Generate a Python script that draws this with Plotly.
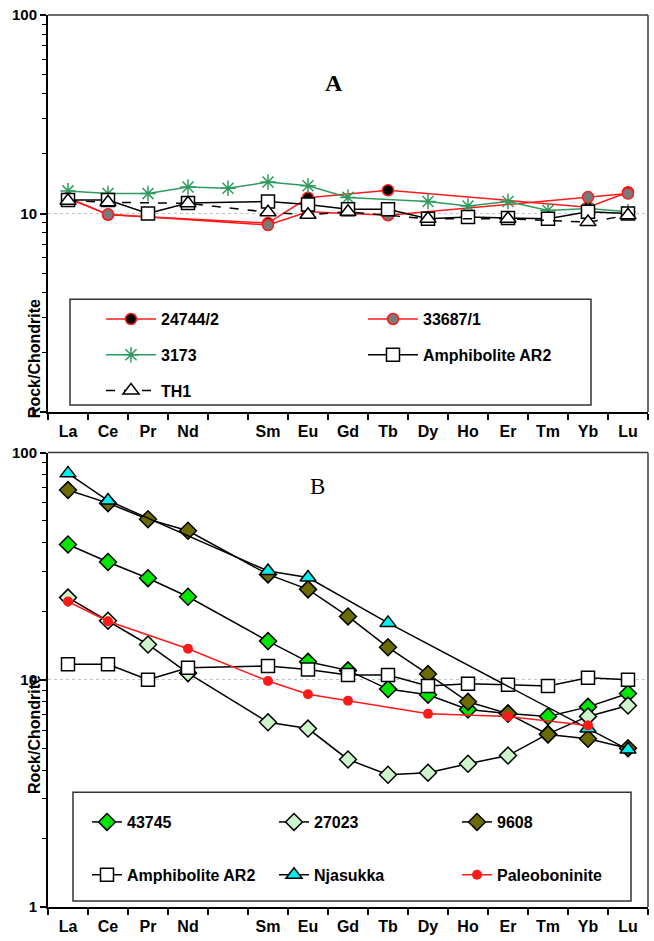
import plotly.graph_objects as go

# Rare-earth elements in chondrite-normalised order (Pm has no tick label)
ELEMENTS = ["La", "Ce", "Pr", "Nd", "Pm", "Sm", "Eu", "Gd", "Tb", "Dy", "Ho", "Er", "Tm", "Yb", "Lu"]
TICK_TEXT = ["La", "Ce", "Pr", "Nd", "", "Sm", "Eu", "Gd", "Tb", "Dy", "Ho", "Er", "Tm", "Yb", "Lu"]

# Panel A samples (None = not analysed)
s_24744_2 = [12.0, 9.85, None, None, None, 8.95, 12.0, None, 13.1, None, None, None, None, 10.75, 12.8]
s_33687_1 = [11.9, 9.9, None, None, None, 8.75, 10.2, None, 9.8, None, None, None, None, 12.1, 12.6]
s_3173 = [13.0, 12.6, 12.6, 13.6, 13.4, 14.4, 13.8, 12.05, None, 11.5, 10.9, 11.5, 10.35, 10.6, 10.2]
amphibolite_ar2 = [11.7, 11.7, 10.0, 11.3, None, 11.5, 11.1, 10.5, 10.5, 9.4, 9.6, 9.5, 9.4, 10.2, 10.0]
th1 = [11.6, 11.4, None, 11.25, None, 10.15, 9.85, 10.2, None, 9.4, None, 9.4, None, 9.05, 9.8]

# Panel B samples
s_43745 = [39.4, 33.0, 28.0, 23.2, None, 14.8, 12.0, 11.0, 9.1, 8.6, 7.4, 7.1, 6.9, 7.6, 8.7]
s_27023 = [23.0, 18.2, 14.3, 10.7, None, 6.5, 6.1, 4.46, 3.82, 3.9, 4.27, 4.64, 5.78, 6.9, 7.7]
s_9608 = [68.4, 59.9, 50.9, 45.3, None, 29.1, 25.0, 19.0, 13.9, 10.6, 8.0, 7.1, 5.75, 5.5, 5.0]
njasukka = [81.0, 61.5, None, None, None, 30.1, 28.2, None, 17.8, None, None, None, None, 6.1, 4.93]
paleoboninite = [22.1, 18.1, None, 13.7, None, 9.87, 8.63, 8.09, None, 7.08, None, 6.9, None, 6.3, None]

X = list(range(len(ELEMENTS)))

W, H = 654, 941
ML, MR, MT, MB = 48, 6, 12, 28
PW, PH = W - ML - MR, H - MT - MB


def px_x(px):
    return (px - ML) / PW


def px_y(py):
    return (H - MB - py) / PH


SANS = "Liberation Sans, Arial, sans-serif"
SERIF = "Liberation Serif, Times New Roman, serif"
RED = "#ff1a1a"
GREEN = "#2f9a5e"

fig = go.Figure()


def add(y, name, xa, ya, legend, line, marker):
    fig.add_trace(go.Scatter(
        x=X, y=y, name=name, mode="lines+markers", connectgaps=True,
        xaxis=xa, yaxis=ya, legend=legend, legendgroup=name + legend,
        line=line, marker=marker, cliponaxis=False,
    ))


# Panel A
add(s_24744_2, "24744/2", "x", "y", "legend",
    dict(color=RED, width=1.5),
    dict(symbol="circle", size=11, color="black", line=dict(color=RED, width=1.5)))
add(s_33687_1, "33687/1", "x", "y", "legend2",
    dict(color=RED, width=1.5),
    dict(symbol="circle", size=11, color="#7a7a7a", line=dict(color=RED, width=1.5)))
add(s_3173, "3173", "x", "y", "legend",
    dict(color=GREEN, width=1.5),
    dict(symbol="asterisk-open", size=13, color=GREEN, line=dict(color=GREEN, width=1.5)))
add(amphibolite_ar2, "Amphibolite AR2", "x", "y", "legend2",
    dict(color="black", width=1.5),
    dict(symbol="square", size=13, color="white", line=dict(color="black", width=1.5)))
add(th1, "TH1", "x", "y", "legend",
    dict(color="black", width=1.5, dash="dash"),
    dict(symbol="triangle-up", size=14, color="white", line=dict(color="black", width=1.5)))

# Panel B
add(s_43745, "43745", "x2", "y2", "legend3",
    dict(color="black", width=1.5),
    dict(symbol="diamond", size=13, color="#00e600", line=dict(color="black", width=1.5)))
add(s_27023, "27023", "x2", "y2", "legend4",
    dict(color="black", width=1.5),
    dict(symbol="diamond", size=13, color="#ccf5cc", line=dict(color="black", width=1.5)))
add(s_9608, "9608", "x2", "y2", "legend5",
    dict(color="black", width=1.5),
    dict(symbol="diamond", size=13, color="#6b6b00", line=dict(color="black", width=1.5)))
add(amphibolite_ar2, "Amphibolite AR2", "x2", "y2", "legend3",
    dict(color="black", width=1.5),
    dict(symbol="square", size=13, color="white", line=dict(color="black", width=1.5)))
add(njasukka, "Njasukka", "x2", "y2", "legend4",
    dict(color="black", width=1.5),
    dict(symbol="triangle-up", size=14, color="#00f0f0", line=dict(color="black", width=1.5)))
add(paleoboninite, "Paleoboninite", "x2", "y2", "legend5",
    dict(color=RED, width=1.5),
    dict(symbol="circle", size=10, color=RED, line=dict(width=0)))

minor_x = [i - 0.5 for i in range(len(ELEMENTS) + 1)]
xaxis_common = dict(
    range=[-0.5, len(ELEMENTS) - 0.5], tickmode="array", tickvals=X, ticktext=TICK_TEXT,
    ticks="", showgrid=False, zeroline=False, showline=True, linecolor="black", linewidth=2,
    tickfont=dict(family=SANS, size=16, color="black", weight="bold"), ticklabelstandoff=4,
    minor=dict(tickmode="array", tickvals=minor_x, ticks="outside", ticklen=6,
               tickwidth=1.5, tickcolor="black", showgrid=False),
)
minor_y = [m * 10 ** e for e in range(2) for m in range(2, 10)]
yaxis_common = dict(
    type="log", range=[0, 2], tickmode="array", tickvals=[1, 10, 100], ticktext=["1", "10", "100"],
    ticks="outside", ticklen=6, tickwidth=1.5, tickcolor="black",
    showline=True, linecolor="black", linewidth=2, zeroline=False,
    showgrid=True, gridcolor="#c4c4c4", griddash="dot", gridwidth=1,
    tickfont=dict(family=SANS, size=15, color="black", weight="bold"),
    minor=dict(tickmode="array", tickvals=minor_y, ticks="outside", ticklen=4,
               tickwidth=1.2, tickcolor="black", showgrid=False),
)

top_dom = [px_y(413), 1.0]
bot_dom = [0.0, px_y(454)]

legend_font = dict(family=SANS, size=16, color="black", weight="bold")


def legend_at(left_px, top_px, gap, itemwidth):
    return dict(
        x=px_x(left_px), y=px_y(top_px), xref="paper", yref="paper",
        xanchor="left", yanchor="top", orientation="v",
        bgcolor="rgba(0,0,0,0)", borderwidth=0, font=legend_font,
        tracegroupgap=gap, itemwidth=itemwidth, itemclick=False, itemdoubleclick=False,
    )


fig.update_layout(
    width=W, height=H, margin=dict(l=ML, r=MR, t=MT, b=MB),
    paper_bgcolor="white", plot_bgcolor="white", showlegend=True,
    xaxis=dict(domain=[0, 1], anchor="y", **xaxis_common),
    yaxis=dict(domain=top_dom, anchor="x", **yaxis_common),
    xaxis2=dict(domain=[0, 1], anchor="y2", **xaxis_common),
    yaxis2=dict(domain=bot_dom, anchor="x2", **yaxis_common),
    legend=legend_at(101, 302, 12, 50),
    legend2=legend_at(363, 302, 12, 50),
    legend3=legend_at(87, 810, 29, 30),
    legend4=legend_at(274, 810, 29, 30),
    legend5=legend_at(457, 810, 29, 30),
)

# Frame: top and right edges of each panel
for xa, ya in (("x", "y"), ("x2", "y2")):
    fig.add_shape(type="line", xref=f"{xa} domain", yref=f"{ya} domain",
                  x0=0, x1=1, y0=1, y1=1, line=dict(color="#3a3a3a", width=1.5))
    fig.add_shape(type="line", xref=f"{xa} domain", yref=f"{ya} domain",
                  x0=1, x1=1, y0=0, y1=1, line=dict(color="#3a3a3a", width=1.5))

# Legend boxes
for x0, y0, x1, y1 in ((70, 299, 591, 406), (73, 797, 631, 907)):
    fig.add_shape(type="rect", xref="paper", yref="paper",
                  x0=px_x(x0), x1=px_x(x1), y0=px_y(y1), y1=px_y(y0),
                  line=dict(color="#333333", width=1.5), fillcolor="rgba(0,0,0,0)", layer="below")

# Panel letters and axis titles
fig.add_annotation(text="A", xref="paper", yref="paper", x=px_x(334), y=px_y(66),
                   showarrow=False, font=dict(family=SERIF, size=24, color="black", weight="bold"))
fig.add_annotation(text="B", xref="paper", yref="paper", x=px_x(317), y=px_y(488),
                   showarrow=False, font=dict(family=SERIF, size=23, color="black"))
for cy in (297, 801):
    fig.add_annotation(text="Rock/Chondrite", xref="paper", yref="paper", x=px_x(24), y=px_y(cy),
                       textangle=-90, showarrow=False,
                       font=dict(family=SANS, size=16, color="black", weight="bold"))

fig.write_html("out.html")
